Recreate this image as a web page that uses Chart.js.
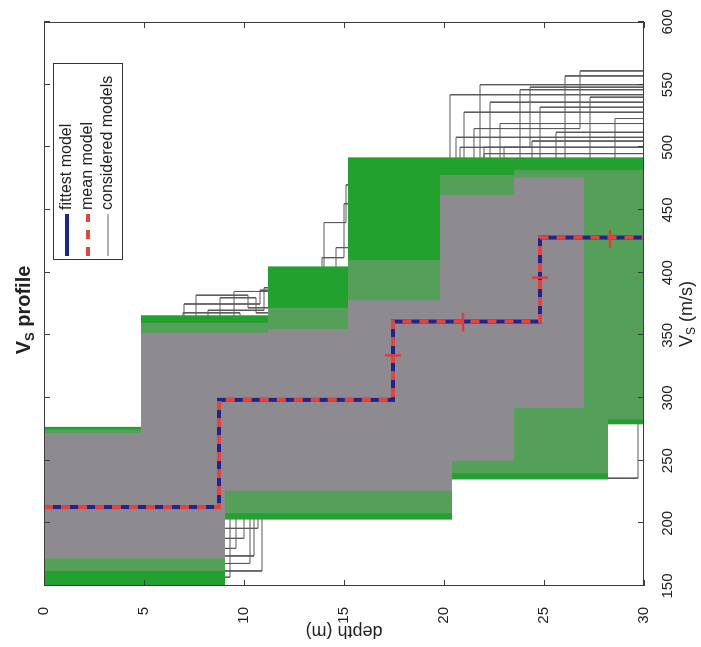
<!DOCTYPE html>
<html>
<head>
<meta charset="utf-8">
<script src="https://cdn.jsdelivr.net/npm/chart.js@4.4.0/dist/chart.umd.min.js"></script>
<style>
html,body{margin:0;padding:0;background:#fff;overflow:hidden;}
/* the figure is drawn upright and then turned a quarter turn, like the scanned page */
#wrap{position:absolute;left:0;top:0;width:647px;height:701px;transform-origin:0 0;transform:translateY(647px) rotate(-90deg);}
</style>
</head>
<body>
<div id="wrap"><canvas id="c" width="647" height="701"></canvas></div>
<script>
// tick values
const vsTicks=[150,200,250,300,350,400,450,500,550,600];
const depthTicks=[0,5,10,15,20,25,30];

// fittest / mean model: layer bottoms (m) and layer Vs (m/s), last Vs = half-space
const fitDepths=[8.75,17.45,24.8];
const fitVs=[213,298.5,361,428];
const meanDepths=[8.75,17.45,24.8];
const meanVs=[213,298.5,361,428];

// error bars of the mean model
const errDepthLo=[17.05,20.95,24.4,28.3];
const errDepthHi=[17.85,20.95,25.2,28.3];
const errVsLo=[334,353,396,420];
const errVsHi=[334,368,396,434];

// envelope of the considered models (green), a mixed band, and the dense grey core
const outerTopZ=[4.85,11.2,15.2,30];
const outerTopVs=[277,366,405,492];
const outerBotZ=[9.05,20.4,28.2,30];
const outerBotVs=[150,203,235,279];

const midTopZ=[4.85,11.2,15.2,19.8,23.5,30];
const midTopVs=[275,360,372,410,478,482];
const midBotZ=[9.05,20.4,28.2,30];
const midBotVs=[162,208,240,283];

const coreTopZ=[4.85,11.2,15.2,19.8,23.5,27];
const coreTopVs=[272,352,355,378,462,476];
const coreBotZ=[9.05,20.4,23.5,27];
const coreBotVs=[172,226,250,292];

// a few considered models that stick out of the envelope
const modelZ=[
  [10.9,17.5,24.8],[10.5,17.2,24.5],[10.0,17.6,25.0],[10.7,17.4,24.6],[9.6,17.3,24.9],[10.3,17.5,24.7],[9.3,17.4,24.8],
  [7.0,10.8,17.5,24.8],[7.6,10.2,17.5,24.8],[8.2,11.0,17.5,24.8],[8.8,10.6,17.5,24.8],[9.5,17.5,24.8],[6.95,9.8,17.5,24.8],
  [5,14.0,15.1,22],[5,14.6,22],[5,13.9,15.0,22],
  [8.6,17.3,20.3],[8.8,17.6,21.0],[8.4,17.0,21.8],[8.9,17.8,22.3],[8.7,17.2,22.8],[8.5,17.5,23.8],[8.8,17.4,24.4],
  [8.6,17.7,24.8],[8.7,17.3,25.6],[8.9,17.6,26.05],[8.5,17.1,27.3],[8.6,17.5,28.55],[8.8,17.4,23.0],[8.7,17.2,20.6],
  [8.7,17.2,20.8,24.3],[8.7,17.2,21.5,26.8],
  [8.7,20.0,29.7]
];
const modelVs=[
  [162,300,362,430],[174,298,358,425],[188,302,365,432],[196,296,360,428],[180,300,361,429],[168,299,363,427],[157,301,360,430],
  [250,375,386,400,440],[255,382,372,360,430],[260,370,388,398,430],[265,380,368,362,430],[270,385,395,430],[245,368,300,362,430],
  [270,345,440,470,500],[275,350,420,490],[272,352,412,455,495],
  [212,300,380,542],[215,296,370,528],[210,305,390,550],[218,298,400,536],[214,302,385,519],[211,299,410,546],[216,301,395,505],
  [213,297,380,532],[212,300,420,512],[215,296,430,557],[211,303,440,540],[214,300,425,523],[213,299,405,500],[212,300,375,508],
  [212,300,370,500,548],[212,300,380,515,561],
  [200,250,236,300]
];

const FONT="'Liberation Sans', Arial, Helvetica, sans-serif";

// step profile: x = Vs, y = depth
function profile(z,v,zmax){
  let pts=[],top=0;
  for(let i=0;i<v.length;i++){
    let bot=i<z.length?z[i]:zmax;
    pts.push({x:v[i],y:top},{x:v[i],y:bot});
    top=bot;
  }
  return pts;
}
function band(tz,tv,bz,bv){
  let zmax=tz[tz.length-1];
  return profile(tz,tv,zmax).concat(profile(bz,bv,zmax).reverse());
}
function errPoints(){
  let pts=[];
  for(let i=0;i<errVsLo.length;i++){
    pts.push({x:errVsLo[i],y:errDepthLo[i]},{x:errVsHi[i],y:errDepthHi[i]},{x:null,y:null});
  }
  return pts;
}

let datasets=[
  {label:'err',data:errPoints(),borderColor:'#e23b3b',borderWidth:2.5,pointRadius:0,spanGaps:false},
  {label:'mean model',data:profile(meanDepths,meanVs,30),borderColor:'#e8423c',borderWidth:4,borderDash:[9,8],pointRadius:0},
  {label:'fittest model',data:profile(fitDepths,fitVs,30),borderColor:'#1b2690',borderWidth:4,pointRadius:0},
  {label:'core',data:band(coreTopZ,coreTopVs,coreBotZ,coreBotVs),fill:'shape',backgroundColor:'#8d8b8f',borderColor:'transparent',borderWidth:0,pointRadius:0},
  {label:'mid',data:band(midTopZ,midTopVs,midBotZ,midBotVs),fill:'shape',backgroundColor:'#55a058',borderColor:'transparent',borderWidth:0,pointRadius:0},
  {label:'outer',data:band(outerTopZ,outerTopVs,outerBotZ,outerBotVs),fill:'shape',backgroundColor:'#22a12f',borderColor:'transparent',borderWidth:0,pointRadius:0}
];
modelZ.forEach((z,i)=>{
  datasets.push({label:'considered models',data:profile(z,modelVs[i],30),borderColor:'#5a5a5a',borderWidth:1,pointRadius:0});
});

function drawParts(ctx,parts,cx,cy){
  let w=0;
  parts.forEach(p=>{ctx.font=p.f;p.w=ctx.measureText(p.t).width;w+=p.w;});
  let x=cx-w/2;
  parts.forEach(p=>{ctx.font=p.f;ctx.fillText(p.t,x,cy+(p.dy||0));x+=p.w;});
}

const decor={
  id:'decor',
  afterDatasetsDraw(chart){
    const {ctx,chartArea:a,scales:{x,y}}=chart;
    ctx.save();
    ctx.strokeStyle='#3c3c3c';
    ctx.lineWidth=1;
    ctx.strokeRect(a.left+0.5,a.top+0.5,a.width-1,a.height-1);
    ctx.beginPath();
    vsTicks.forEach(v=>{
      let px=Math.round(x.getPixelForValue(v))+0.5;
      ctx.moveTo(px,a.bottom);ctx.lineTo(px,a.bottom-6);
      ctx.moveTo(px,a.top);ctx.lineTo(px,a.top+6);
    });
    depthTicks.forEach(d=>{
      let py=Math.round(y.getPixelForValue(d))+0.5;
      ctx.moveTo(a.left,py);ctx.lineTo(a.left+6,py);
      ctx.moveTo(a.right,py);ctx.lineTo(a.right-6,py);
    });
    ctx.stroke();
    ctx.restore();
  },
  afterDraw(chart){
    const {ctx,chartArea:a}=chart;
    ctx.save();
    ctx.fillStyle='#222';
    ctx.textBaseline='middle';
    // title
    drawParts(ctx,[{t:'V',f:'bold 20px '+FONT},{t:'S',f:'bold 13px '+FONT,dy:6},{t:' profile',f:'bold 20px '+FONT}],337,24);
    // x axis title
    drawParts(ctx,[{t:'V',f:'18px '+FONT},{t:'S',f:'12px '+FONT,dy:5},{t:' (m/s)',f:'18px '+FONT}],333,687);
    // y axis title
    ctx.save();
    ctx.translate(16,(a.top+a.bottom)/2);
    ctx.rotate(-Math.PI/2);
    ctx.textAlign='center';
    ctx.font='18px '+FONT;
    ctx.fillText('depth (m)',0,0);
    ctx.restore();
    // legend
    const L=387,R=583,T=53,B=122;
    ctx.fillStyle='#fff';
    ctx.fillRect(L,T,R-L,B-T);
    ctx.strokeStyle='#333';
    ctx.lineWidth=1;
    ctx.strokeRect(L+0.5,T+0.5,R-L,B-T);
    const rows=[
      {y:67,t:'fittest model',c:'#1b2690',w:4,dash:[]},
      {y:88,t:'mean model',c:'#e8423c',w:4,dash:[9,8]},
      {y:108,t:'considered models',c:'#666',w:1,dash:[]}
    ];
    rows.forEach(r=>{
      ctx.beginPath();
      ctx.setLineDash(r.dash);
      ctx.strokeStyle=r.c;ctx.lineWidth=r.w;
      ctx.moveTo(391,r.y);ctx.lineTo(433,r.y);ctx.stroke();
      ctx.setLineDash([]);
      ctx.fillStyle='#222';
      ctx.font='16px '+FONT;
      ctx.textAlign='left';
      ctx.fillText(r.t,437,r.y);
    });
    ctx.restore();
  }
};

new Chart(document.getElementById('c'),{
  type:'line',
  data:{datasets:datasets},
  options:{
    indexAxis:'y',
    responsive:false,
    animation:false,
    layout:{padding:{top:44,right:22,bottom:0,left:0}},
    elements:{line:{tension:0}},
    plugins:{legend:{display:false},tooltip:{enabled:false}},
    scales:{
      x:{type:'linear',position:'bottom',min:150,max:600,
         grid:{display:false},border:{display:false},
         ticks:{stepSize:50,color:'#222',font:{family:FONT,size:15},padding:7,maxRotation:0},
         afterFit:s=>{s.height=57;}},
      y:{type:'linear',position:'left',min:0,max:30,reverse:true,
         grid:{display:false},border:{display:false},
         ticks:{stepSize:5,color:'#222',font:{family:FONT,size:15},padding:13},
         afterFit:s=>{s.width=61;}}
    }
  },
  plugins:[decor]
});
</script>
</body>
</html>
